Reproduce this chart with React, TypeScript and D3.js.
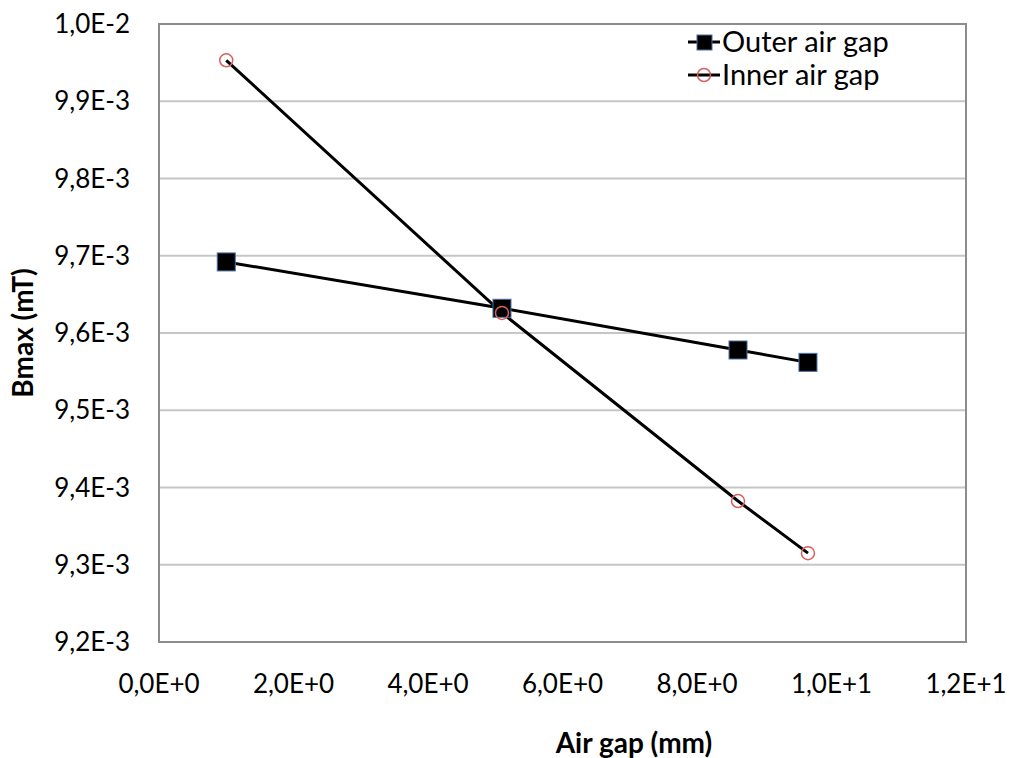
import React from 'react';
import * as d3 from 'd3';

const airGap = [1.0, 5.1, 8.61, 9.65];
const outerB = [9.692e-3, 9.632e-3, 9.578e-3, 9.562e-3];
const innerB = [9.953e-3, 9.626e-3, 9.3825e-3, 9.315e-3];
const xTicks = [0, 2, 4, 6, 8, 10, 12];
const xTickLabels = ['0,0E+0', '2,0E+0', '4,0E+0', '6,0E+0', '8,0E+0', '1,0E+1', '1,2E+1'];
const yTicks = [9.2e-3, 9.3e-3, 9.4e-3, 9.5e-3, 9.6e-3, 9.7e-3, 9.8e-3, 9.9e-3, 1.0e-2];
const yTickLabels = ['9,2E-3', '9,3E-3', '9,4E-3', '9,5E-3', '9,6E-3', '9,7E-3', '9,8E-3', '9,9E-3', '1,0E-2'];

const W = 1009;
const H = 758;
const font = 'Lato, "Open Sans", sans-serif';

export default function App() {
  const x = d3.scaleLinear().domain([0, 12]).range([159, 966]);
  const y = d3.scaleLinear().domain([9.2e-3, 1.0e-2]).range([642, 24]);

  const line = d3.line<number>()
    .x((_, i) => x(airGap[i]))
    .y(d => y(d));

  return (
    <svg width={W} height={H} style={{ position: 'absolute', left: 0, top: 0, background: '#fff' }}>
      {/* gridlines */}
      {yTicks.map((t, i) => (
        <line key={'g' + i} x1={x(0)} x2={x(12)} y1={y(t)} y2={y(t)} stroke="#c6c6c6" strokeWidth={2} />
      ))}
      {/* frame */}
      <rect x={x(0)} y={y(1.0e-2)} width={x(12) - x(0)} height={y(9.2e-3) - y(1.0e-2)}
        fill="none" stroke="#8c8c8c" strokeWidth={2} />

      {/* y tick labels */}
      {yTicks.map((t, i) => (
        <text key={'yl' + i} x={130} y={y(t)} dy="0.35em" textAnchor="end"
          fontFamily={font} fontSize={26} fill="#000">{yTickLabels[i]}</text>
      ))}
      {/* x tick labels */}
      {xTicks.map((t, i) => (
        <text key={'xl' + i} x={x(t)} y={693} textAnchor="middle"
          fontFamily={font} fontSize={26} fill="#000">{xTickLabels[i]}</text>
      ))}

      {/* axis titles */}
      <text x={634} y={753} textAnchor="middle" fontFamily={font} fontSize={28} fontWeight="bold">Air gap (mm)</text>
      <text transform="translate(33,333) rotate(-90)" textAnchor="middle" fontFamily={font} fontSize={28} fontWeight="bold">Bmax (mT)</text>

      {/* series lines */}
      <path d={line(outerB) || ''} fill="none" stroke="#000" strokeWidth={3} />
      <path d={line(innerB) || ''} fill="none" stroke="#000" strokeWidth={3} />

      {/* markers */}
      {outerB.map((v, i) => (
        <rect key={'o' + i} x={x(airGap[i]) - 9} y={y(v) - 9} width={18} height={18}
          fill="#000" stroke="#4a6fa5" strokeWidth={1} />
      ))}
      {innerB.map((v, i) => (
        <circle key={'i' + i} cx={x(airGap[i])} cy={y(v)} r={6.5}
          fill="none" stroke="#d9605a" strokeWidth={1.5} />
      ))}

      {/* legend */}
      <g>
        <line x1={688} x2={720} y1={42} y2={42} stroke="#000" strokeWidth={3} />
        <rect x={697} y={35} width={15} height={15} fill="#000" stroke="#4a6fa5" strokeWidth={1} />
        <text x={722} y={42} dy="0.35em" fontFamily={font} fontSize={29}>Outer air gap</text>
        <line x1={688} x2={720} y1={75} y2={75} stroke="#000" strokeWidth={3} />
        <circle cx={704} cy={75} r={6.5} fill="none" stroke="#d9605a" strokeWidth={1.5} />
        <text x={722} y={75} dy="0.35em" fontFamily={font} fontSize={29}>Inner air gap</text>
      </g>
    </svg>
  );
}
